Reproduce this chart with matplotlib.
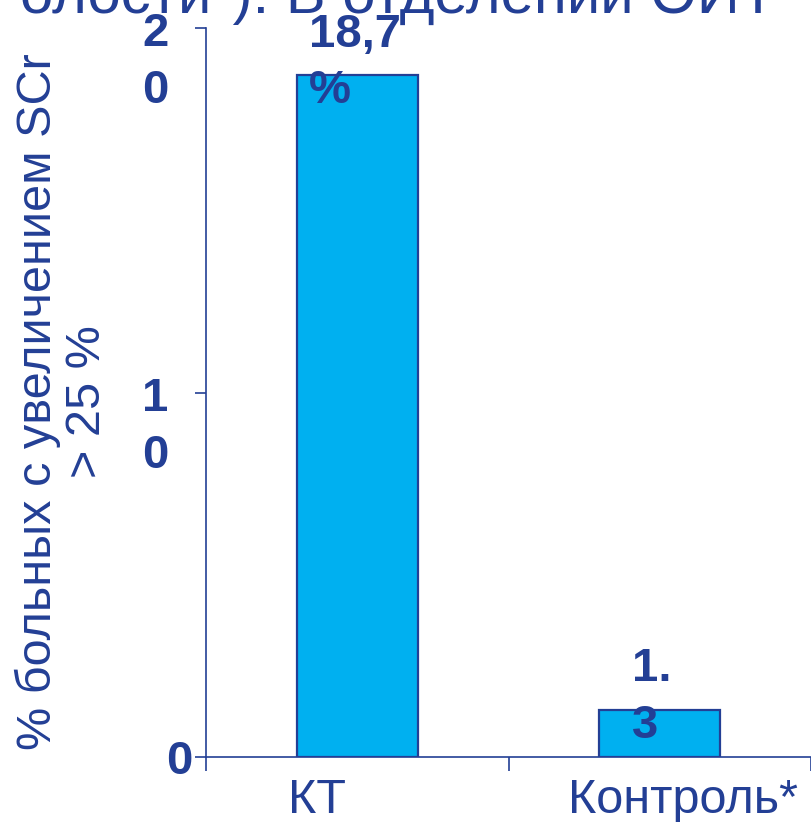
import matplotlib
matplotlib.use("Agg")
import matplotlib.pyplot as plt
from matplotlib.transforms import blended_transform_factory, ScaledTranslation
from matplotlib.patches import Rectangle

# ---- data ----
categories = ["КТ", "Контроль*"]
values = [18.7, 1.3]
value_labels = ["18,7\n%", "1.\n3"]
y_ticks = [0, 10, 20]
y_tick_labels = ["0", "1\n0", "2\n0"]
y_label = "% больных с увеличением SCr\n> 25 %"
title_tail = 'олости"). В отделении ОИТ'

# ---- style ----
NAVY = "#233F95"
CYAN = "#00B0F0"
FONT = "Liberation Sans"
DPI = 100
W, H = 811, 822
LINE_PX = 58          # distance between wrapped lines of the bold labels
LINESPACING = 1.37
CAT_LABEL_DX = [-40, 23]      # horizontal nudge of category labels, px
VALUE_LABEL_DX = [-2, -8]     # horizontal nudge of value labels, px


def pt(px):
    """pixels -> points"""
    return px * 72 / DPI


def extra_lines(s):
    return s.count("\n")


fig = plt.figure(figsize=(W / DPI, H / DPI), dpi=DPI)
ax = fig.add_axes([206 / W, 65 / H, 605 / W, 729 / H])

x = list(range(len(categories)))
ax.bar(x, values, width=0.4, color=CYAN, edgecolor=NAVY, linewidth=1.6, zorder=3)
ax.set_xlim(-0.5, len(categories) - 0.5)
ax.set_ylim(0, 20)

for side in ("top", "right"):
    ax.spines[side].set_visible(False)
for side in ("left", "bottom"):
    ax.spines[side].set_color(NAVY)
    ax.spines[side].set_linewidth(1.2)

# y ticks (labels drawn by hand so wrapped digits hang below the tick)
ax.set_yticks(y_ticks)
ax.set_yticklabels([])
ax.tick_params(axis="y", direction="out", length=pt(11), width=1.2, color=NAVY)
# x ticks on category boundaries
ax.set_xticks([i - 0.5 for i in range(len(categories) + 1)])
ax.set_xticklabels([])
ax.tick_params(axis="x", direction="out", length=pt(14), width=1.2, color=NAVY)

ytrans = blended_transform_factory(ax.transAxes, ax.transData)
for v, lab in zip(y_ticks, y_tick_labels):
    if "\n" in lab:
        dx, ha = -51, "center"
    else:
        dx, ha = -14, "right"
    dy = -17 - LINE_PX * extra_lines(lab)
    tr = ytrans + ScaledTranslation(dx / DPI, dy / DPI, fig.dpi_scale_trans)
    ax.text(0, v, lab, transform=tr, ha=ha, va="baseline", multialignment="center",
            fontsize=34, fontweight="bold", color=NAVY, family=FONT,
            linespacing=LINESPACING, clip_on=False)

# category labels
xtrans = blended_transform_factory(ax.transData, ax.transAxes)
for i, lab in enumerate(categories):
    tr = xtrans + ScaledTranslation(CAT_LABEL_DX[i] / DPI, -56 / DPI, fig.dpi_scale_trans)
    ax.text(i, 0, lab, transform=tr, ha="center", va="baseline",
            fontsize=35, color=NAVY, family=FONT, clip_on=False)

# value labels above bars: first line sits 30 px over the bar top
for i, (v, lab) in enumerate(zip(values, value_labels)):
    dy = 30 - LINE_PX * extra_lines(lab)
    ax.annotate(lab, (i, v), xytext=(pt(VALUE_LABEL_DX[i]), pt(dy)),
                textcoords="offset points",
                ha="center", va="baseline", multialignment="left",
                fontsize=34, fontweight="bold", color=NAVY, family=FONT,
                linespacing=LINESPACING, zorder=4, annotation_clip=False)

# axis title
fig.text(62 / W, 1 - 402 / H, y_label, rotation=90, ha="center", va="center",
         multialignment="center", fontsize=35, color=NAVY, family=FONT,
         linespacing=1.12)

# slide heading running across the top edge
fig.add_artist(Rectangle((0, 1 - 14 / H), 1, 14 / H, transform=fig.transFigure,
                         facecolor="white", edgecolor="none", zorder=5))
fig.text(776 / W, 1 - 13 / H, title_tail, ha="right", va="baseline",
         fontsize=43, color=NAVY, family=FONT, zorder=6)

fig.savefig("out.png", dpi=DPI)
